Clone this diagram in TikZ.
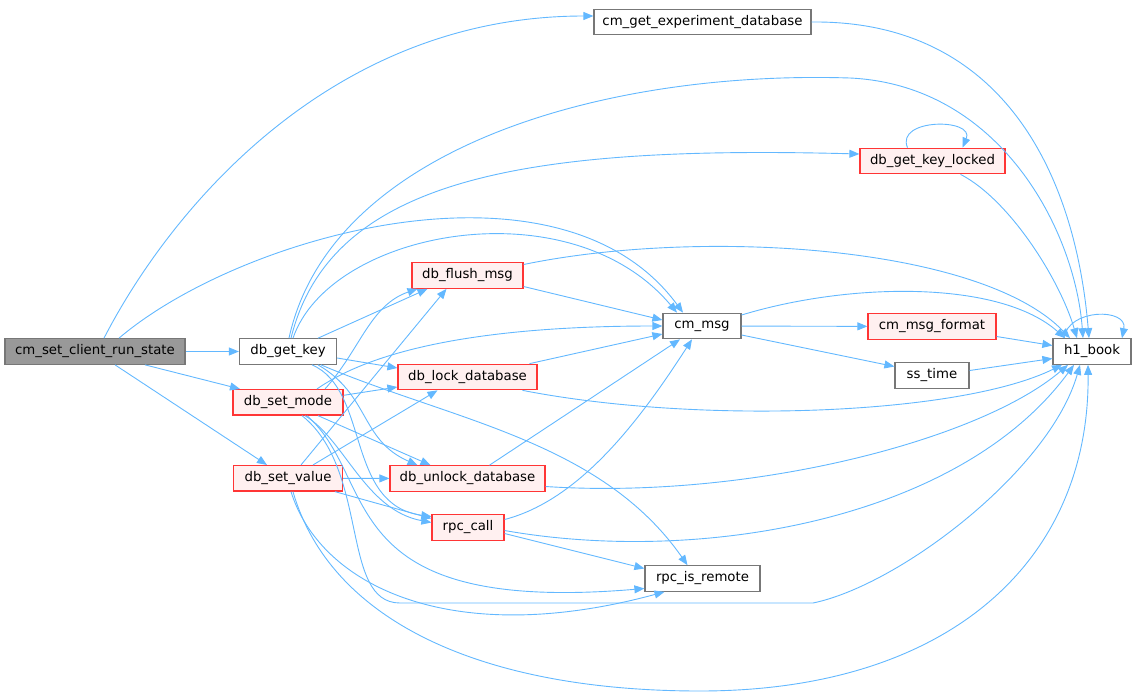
\documentclass[tikz,border=0pt]{standalone}
\usepackage{fontspec}
\setmainfont{DejaVu Sans}
\usetikzlibrary{arrows.meta,calc}
\definecolor{edgec}{HTML}{63B8FF}
\definecolor{redfill}{HTML}{FFF0F0}
\definecolor{redb}{HTML}{FF3535}
\definecolor{greyb}{HTML}{777777}
\definecolor{rootfill}{HTML}{999999}
\begin{document}
\begin{tikzpicture}[x=1pt,y=-1pt,
 box/.style={draw=greyb, fill=white, line width=1.2pt, inner sep=0pt, minimum height=25.5pt, font=\fontsize{13.3}{16}\selectfont, text=black},
 redbox/.style={box, draw=redb, fill=redfill},
 rootbox/.style={box, fill=rootfill},
 cedge/.style={draw=edgec, line width=0.9pt, -{Triangle[length=10pt,width=8pt]}},
]
\useasboundingbox (0,0) rectangle (1136,697);
\node[rootbox, minimum width=180pt] (A) at (95,351.5) {cm\_set\_client\_run\_state};
\node[box, minimum width=97pt] (gk) at (288,351.5) {db\_get\_key};
\node[redbox, minimum width=110pt] (sm) at (288,402.3) {db\_set\_mode};
\node[redbox, minimum width=109pt] (sv) at (288,478.3) {db\_set\_value};
\node[redbox, minimum width=111pt] (fm) at (467.5,275.5) {db\_flush\_msg};
\node[redbox, minimum width=139pt] (ld) at (467.5,377) {db\_lock\_database};
\node[redbox, minimum width=155pt] (ud) at (467.5,478.5) {db\_unlock\_database};
\node[redbox, minimum width=72pt] (rc) at (468,527.5) {rpc\_call};
\node[box, minimum width=78pt] (cm) at (702,326) {cm\_msg};
\node[box, minimum width=115pt] (rr) at (702.5,578.5) {rpc\_is\_remote};
\node[box, minimum width=217pt] (ge) at (702.5,22) {cm\_get\_experiment\_database};
\node[redbox, minimum width=145pt] (kl) at (932.5,161) {db\_get\_key\_locked};
\node[redbox, minimum width=128pt] (mf) at (932,326.5) {cm\_msg\_format};
\node[box, minimum width=74pt] (st) at (932,375.5) {ss\_time};
\node[box, minimum width=78pt] (hb) at (1092,351.5) {h1\_book};

% from root
\draw[cedge] ($(A.north)+(9,0)$) .. controls (170,210) and (330,16) .. ($(ge.west)+(0,-6)$);
\draw[cedge] ($(A.north)+(24,0)$) .. controls (240,235) and (560,145) .. ($(cm.north)+(-19,0)$);
\draw[cedge] (A) -- (gk);
\draw[cedge] ($(A.south)+(50,0)$) -- ($(sm.north)+(-48,0)$);
\draw[cedge] ($(A.south)+(20,0)$) -- ($(sv.north)+(-21,0)$);
% db_get_key
\draw[cedge] ($(gk.east)+(0,6.5)$) -- ($(ld.west)+(0,-9)$);
\draw[cedge] ($(gk.north)+(30,0)$) -- ($(fm.south)+(-40,0)$);
\draw[cedge] ($(gk.north)+(5,0)$) .. controls (330,230) and (570,185) .. ($(cm.north)+(-25,0)$);
\draw[cedge] ($(gk.north)+(3,0)$) .. controls (330,180) and (520,145) .. ($(kl.west)+(0,-7)$);
\draw[cedge] ($(gk.north)+(1,0)$) .. controls (330,150) and (600,70) .. (850,78) .. controls (1000,85) and (1075,230) .. ($(hb.north)+(-9,0)$);
\draw[cedge] ($(gk.south)+(30,0)$) .. controls (370,395) and (360,440) .. ($(ud.north)+(-50,0)$);
\draw[cedge] ($(gk.south)+(24,0)$) .. controls (370,390) and (345,505) .. ($(rc.west)+(0,-11)$);
\draw[cedge] ($(gk.south)+(33,0)$) .. controls (450,420) and (600,440) .. ($(rr.north)+(-15,0)$);
% cm_get_experiment_database
\draw[cedge] (ge.east) .. controls (1000,20) and (1075,170) .. ($(hb.north)+(-3,0)$);
% db_get_key_locked
\draw[cedge] ($(kl.south)+(28,0)$) .. controls (1010,200) and (1060,280) .. ($(hb.north)+(-15,0)$);
\draw[cedge] ($(kl.north)+(-25,0)$) .. controls (895,118) and (975,118) .. ($(kl.north)+(30,0)$);
% db_flush_msg
\draw[cedge] ($(fm.east)+(0,11)$) -- ($(cm.west)+(0,-6)$);
\draw[cedge] ($(fm.east)+(0,-11)$) .. controls (700,228) and (980,245) .. ($(hb.north)+(-22,0)$);
% db_set_mode
\draw[cedge] ($(sm.north)+(37,0)$) .. controls (360,350) and (370,305) .. ($(fm.south)+(-50,0)$);
\draw[cedge] ($(sm.north)+(29,0)$) .. controls (380,345) and (500,326) .. (cm.west);
\draw[cedge] ($(sm.east)+(0,-7)$) -- ($(ld.west)+(0,10)$);
\draw[cedge] ($(sm.south)+(30,0)$) -- ($(ud.north)+(-37,0)$);
\draw[cedge] ($(sm.south)+(17,0)$) .. controls (345,440) and (365,510) .. ($(rc.west)+(0,-5)$);
\draw[cedge] ($(sm.south)+(19,0)$) .. controls (380,480) and (330,615) .. ($(rr.west)+(0,10)$);
\draw[cedge] ($(sm.south)+(14,0)$) .. controls (370,470) and (340,603) .. (400,603) -- (813,603) .. controls (900,585) and (1050,470) .. ($(hb.south)+(-12,0)$);
% db_set_value
\draw[cedge] (sv) -- (ud);
\draw[cedge] ($(sv.north)+(13,0)$) -- ($(fm.south)+(-21,0)$);
\draw[cedge] ($(sv.north)+(25,0)$) -- ($(ld.south)+(-30,0)$);
\draw[cedge] ($(sv.south)+(47,0)$) -- ($(rc.west)+(0,-9)$);
\draw[cedge] ($(sv.south)+(3,0)$) .. controls (320,585) and (450,650) .. ($(rr.south)+(-38,0)$);
\draw[cedge] ($(sv.south)+(5,0)$) .. controls (330,620) and (480,691) .. (700,691) .. controls (950,691) and (1090,560) .. ($(hb.south)+(-4,0)$);
% db_lock_database
\draw[cedge] ($(ld.north)+(62,0)$) -- ($(cm.west)+(0,8)$);
\draw[cedge] ($(ld.south)+(55,0)$) .. controls (700,425) and (960,415) .. ($(hb.south)+(-30,0)$);
% db_unlock_database
\draw[cedge] ($(ud.north)+(22,0)$) -- ($(cm.south)+(-22,0)$);
\draw[cedge] ($(ud.east)+(0,8)$) .. controls (750,500) and (980,440) .. ($(hb.south)+(-24,0)$);
% rpc_call
\draw[cedge] ($(rc.east)+(0,-8)$) .. controls (580,500) and (640,420) .. ($(cm.south)+(-10,0)$);
\draw[cedge] ($(rc.east)+(0,6)$) -- ($(rr.west)+(0,-10)$);
\draw[cedge] ($(rc.east)+(0,3)$) .. controls (700,565) and (960,520) .. ($(hb.south)+(-18,0)$);
% cm_msg
\draw[cedge] (cm) -- (mf);
\draw[cedge] ($(cm.east)+(0,9)$) -- ($(st.west)+(0,-9)$);
\draw[cedge] ($(cm.east)+(0,-11)$) .. controls (850,282) and (1000,280) .. ($(hb.north)+(-27,0)$);
% to h1_book
\draw[cedge] ($(mf.east)+(0,10)$) -- ($(hb.west)+(0,-6)$);
\draw[cedge] ($(st.east)+(0,-5)$) -- ($(hb.west)+(0,7)$);
\draw[cedge] ($(hb.north)+(-28,0)$) .. controls (1068,308) and (1128,308) .. ($(hb.north)+(30,0)$);
\end{tikzpicture}
\end{document}
